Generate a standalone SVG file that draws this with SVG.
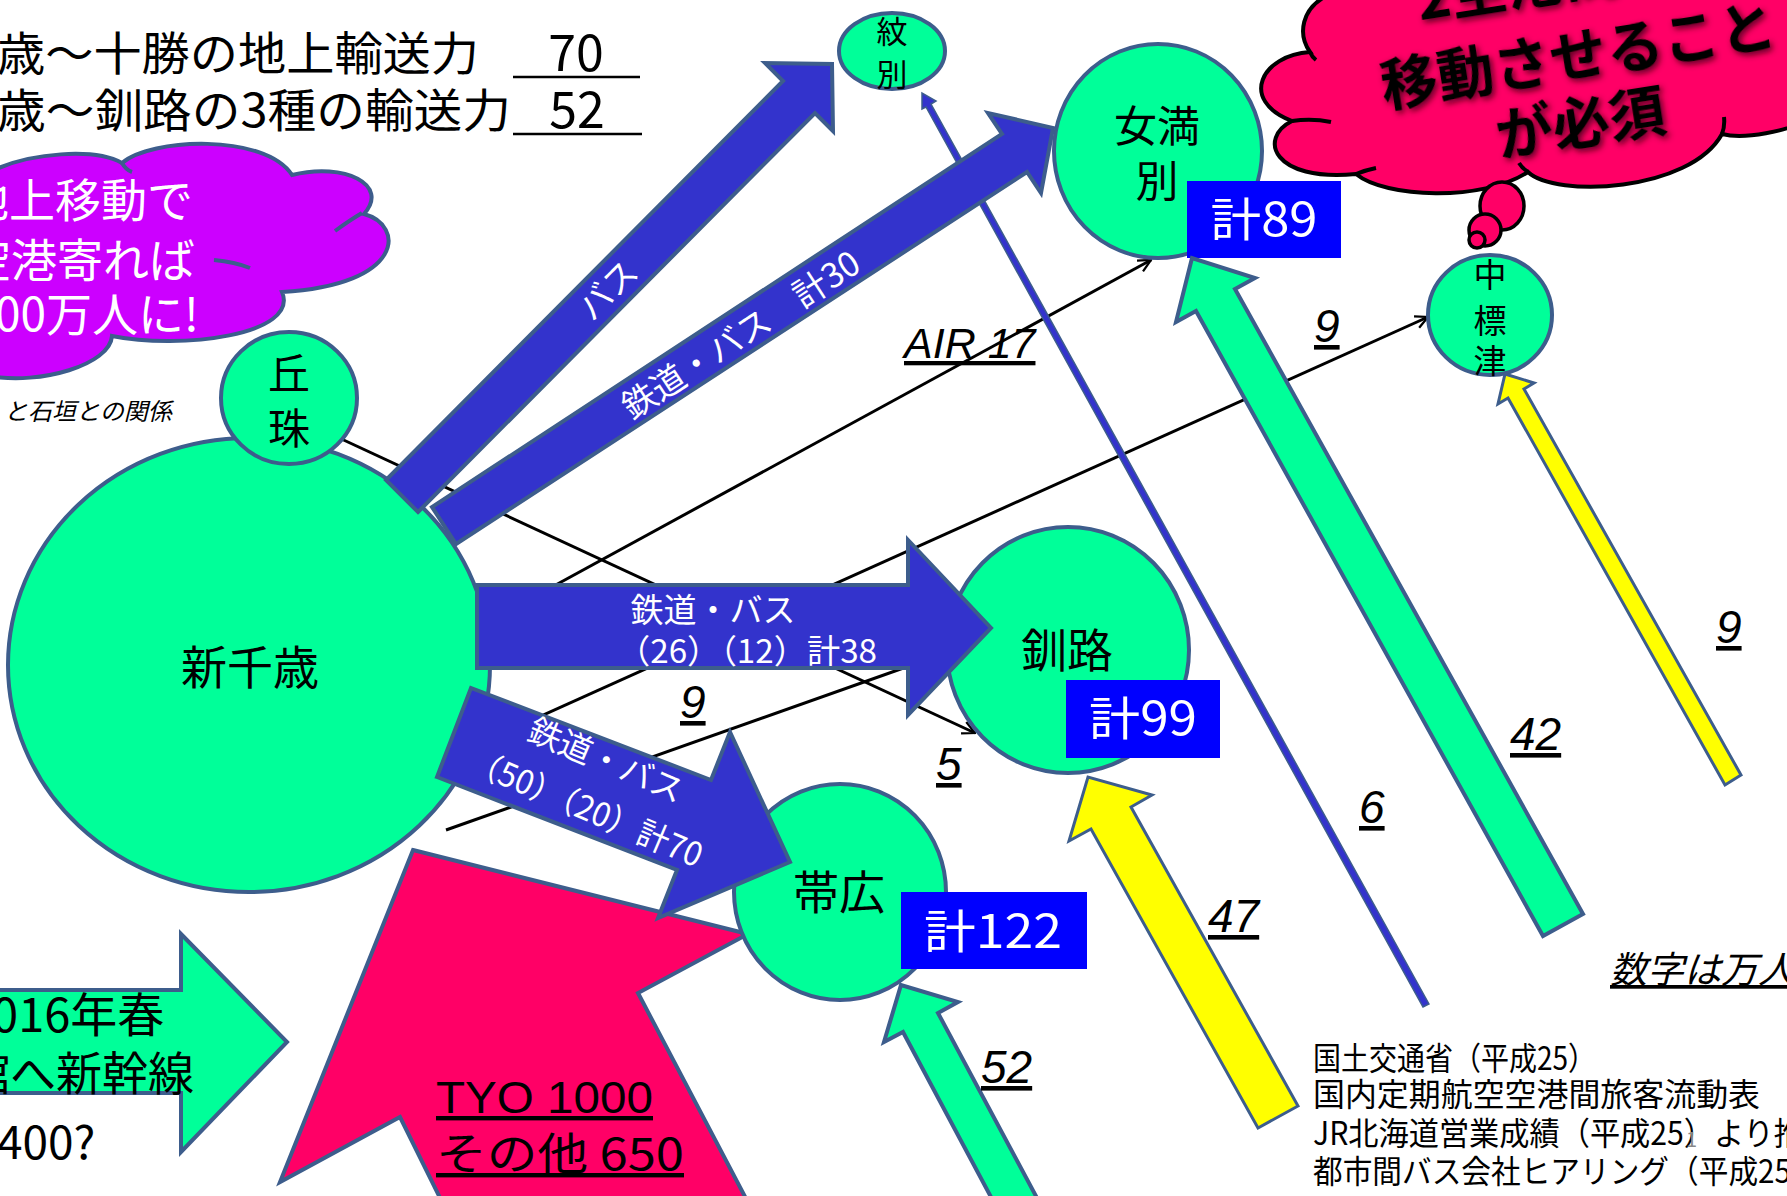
<svg xmlns="http://www.w3.org/2000/svg" width="1787" height="1196" viewBox="0 0 1787 1196">
<defs>
<style>
.jp{font-family:'Noto Sans CJK JP','Noto Sans CJK SC',sans-serif}
.lat{font-family:'Liberation Sans','Noto Sans CJK JP',sans-serif}
.node{fill:#00ff99;stroke:#3d5d8c;stroke-width:4}
.blk{fill:#3333cc;stroke:#3d5d8c;stroke-width:4;stroke-linejoin:miter}
.grn{fill:#00ff99;stroke:#3d5d8c;stroke-width:4;stroke-linejoin:miter}
.yel{fill:#ffff00;stroke:#3d5d8c;stroke-width:3;stroke-linejoin:miter}
.ln{fill:none;stroke:#000;stroke-width:3}
.box{fill:#0000ff}
.num{font-family:'Liberation Sans',sans-serif;font-style:italic;font-size:46px;text-decoration:underline;fill:#000}
.wt{fill:#fff}
.nt{fill:#000;text-anchor:middle}
</style>
<marker id="v" viewBox="0 0 12 12" refX="11" refY="6" markerWidth="15" markerHeight="15" markerUnits="userSpaceOnUse" orient="auto">
<path d="M1,1 L11,6 L1,11" fill="none" stroke="#000" stroke-width="1.8"/>
</marker>
<filter id="sh" x="-10%" y="-30%" width="120%" height="160%">
<feGaussianBlur in="SourceAlpha" stdDeviation="3"/>
<feOffset dx="2" dy="3" result="b"/>
<feFlood flood-color="#3a0010" flood-opacity="0.85"/>
<feComposite in2="b" operator="in"/>
<feMerge><feMergeNode/><feMergeNode in="SourceGraphic"/></feMerge>
</filter>
</defs>
<rect width="1787" height="1196" fill="#fff"/>

<g id="capacity-notes" class="jp" fill="#000">
<text x="-3" y="70" font-size="46" textLength="482" lengthAdjust="spacingAndGlyphs">歳～十勝の地上輸送力</text>
<text x="576" y="71" font-size="50" text-anchor="middle">70</text>
<line x1="513" y1="77" x2="640" y2="77" stroke="#000" stroke-width="2.5"/>
<text x="-3" y="127" font-size="46" textLength="514" lengthAdjust="spacingAndGlyphs">歳～釧路の3種の輸送力</text>
<text x="577" y="128" font-size="50" text-anchor="middle">52</text>
<line x1="513" y1="134" x2="642" y2="134" stroke="#000" stroke-width="2.5"/>
</g>

<g id="purple-cloud">
<path d="M -10,172 C 30,152 95,148 122,163 C 150,138 265,133 292,175 C 345,162 390,185 364,214 C 405,225 405,285 282,292 C 300,335 180,350 112,336 C 110,365 40,385 -10,376 Z" fill="#cc00ff" stroke="#3d5d8c" stroke-width="4"/>
<path d="M 335,231 Q 350,220 362,213 M 214,260 Q 235,262 250,268 M 122,163 Q 126,170 132,172" fill="none" stroke="#3d5d8c" stroke-width="4"/>
<g class="jp wt" font-size="46">
<text x="-37" y="217">地上移動で</text>
<text x="-35" y="277">空港寄れば</text>
<text x="-5" y="331">00万人に!</text>
</g>
<text class="jp" x="4" y="420" font-size="24" font-style="italic" fill="#000">と石垣との関係</text>
</g>

<g id="tokyo-arrow">
<polygon points="413,850 748,934 638,993 752,1210 446,1210 400,1117 280,1182" fill="#ff0066" stroke="#3d5d8c" stroke-width="4" stroke-linejoin="miter"/>
<text class="lat" x="436" y="1113" font-size="44" textLength="217" lengthAdjust="spacingAndGlyphs" text-decoration="underline" fill="#000">TYO 1000</text>
<text class="jp" x="436" y="1170" font-size="44" textLength="248" lengthAdjust="spacingAndGlyphs" text-decoration="underline" fill="#000">その他 650</text>
</g>

<g id="shinkansen-arrow">
<polygon class="grn" points="-10,990 181,990 181,934 287,1042 181,1152 181,1093 -10,1093"/>
<text class="jp" x="-34" y="1032" font-size="47" fill="#000">2016年春</text>
<text class="jp" x="-36" y="1090" font-size="46" fill="#000">館へ新幹線</text>
<text class="jp" x="-3" y="1159" font-size="46" fill="#000">400?</text>
</g>

<g id="connectors">
<line class="ln" x1="335" y1="436" x2="975" y2="733" marker-end="url(#v)"/>
<line class="ln" x1="530" y1="599" x2="1151" y2="260" marker-end="url(#v)"/>
<line class="ln" stroke-width="2.2" x1="490" y1="739" x2="1428" y2="317" marker-end="url(#v)"/>
<line class="ln" x1="446" y1="830" x2="960" y2="648"/>
<polygon points="1429,1004 931,104 936,101 922,93 922,109 926,107 1423,1007" fill="#3333cc" stroke="#3d5d8c" stroke-width="1.5"/>
</g>

<g id="node-shinchitose">
<ellipse class="node" cx="249" cy="665" rx="241" ry="227"/>
<text class="jp nt" x="250" y="684" font-size="46">新千歳</text>
</g>
<g id="node-okadama">
<ellipse class="node" cx="289" cy="398" rx="68" ry="66"/>
<text class="jp nt" x="289" y="389" font-size="42">丘</text>
<text class="jp nt" x="289" y="444" font-size="42">珠</text>
</g>
<g id="node-monbetsu">
<ellipse class="node" cx="892" cy="51" rx="53" ry="38"/>
<text class="jp nt" x="892" y="43" font-size="31">紋</text>
<text class="jp nt" x="892" y="86" font-size="31">別</text>
</g>
<g id="node-memanbetsu">
<ellipse class="node" cx="1158" cy="151" rx="104" ry="107"/>
<text class="jp nt" x="1157" y="142" font-size="43">女満</text>
<text class="jp nt" x="1157" y="197" font-size="43">別</text>
<rect class="box" x="1187" y="181" width="154" height="77"/>
<text class="jp wt" x="1264" y="236" font-size="46" text-anchor="middle" textLength="107" lengthAdjust="spacingAndGlyphs">計89</text>
</g>
<g id="node-nakashibetsu">
<ellipse class="node" cx="1490" cy="315" rx="62" ry="60"/>
<text class="jp nt" x="1490" y="287" font-size="33">中</text>
<text class="jp nt" x="1490" y="333" font-size="33">標</text>
<text class="jp nt" x="1490" y="373" font-size="33">津</text>
</g>
<g id="node-kushiro">
<ellipse class="node" cx="1068" cy="650" rx="121" ry="123"/>
<text class="jp nt" x="1067" y="667" font-size="46">釧路</text>
<rect class="box" x="1066" y="680" width="154" height="78"/>
<text class="jp wt" x="1143" y="735" font-size="46" text-anchor="middle" textLength="108" lengthAdjust="spacingAndGlyphs">計99</text>
</g>
<g id="node-obihiro">
<ellipse class="node" cx="840" cy="892" rx="106" ry="108"/>
<text class="jp nt" x="839" y="909" font-size="46">帯広</text>
<rect class="box" x="901" y="892" width="186" height="77"/>
<text class="jp wt" x="993" y="948" font-size="46" text-anchor="middle" textLength="138" lengthAdjust="spacingAndGlyphs">計122</text>
</g>

<g id="flow-arrows">
<polygon class="blk" points="418,512 815,113 833,131 832,64 765,63 783,81 386,480"/>
<text class="jp wt" transform="translate(608,290) rotate(-45)" y="12" font-size="34" text-anchor="middle">バス</text>
<polygon class="blk" points="456,544 1027,172 1041,193 1053,128 988,113 1002,134 432,507"/>
<text class="jp wt" transform="translate(741,335) rotate(-33.1)" y="12" font-size="34" text-anchor="middle">鉄道・バス　計30</text>
<polygon class="blk" points="477,585 908,585 908,540 991,628 908,715 908,668 477,668"/>
<text class="jp wt" x="713" y="622" font-size="33" text-anchor="middle">鉄道・バス</text>
<text class="jp wt" x="747" y="663" font-size="33" text-anchor="middle" textLength="260" lengthAdjust="spacingAndGlyphs">（26）（12）計38</text>
<polygon class="blk" points="437,777 677,870 658,918 790,862 730,732 711,780 471,688"/>
<g class="jp wt" transform="translate(596,784) rotate(23)" font-size="33" text-anchor="middle">
<text x="0" y="-14">鉄道・バス</text>
<text x="0" y="38" textLength="250" lengthAdjust="spacingAndGlyphs">（50）（20）計70</text>
</g>
<polygon class="grn" points="1583,914 1235,289 1255,278 1192,258 1176,322 1196,311 1543,936"/>
<polygon class="yel" stroke-width="4" points="1298,1106 1131,807 1152,795 1088,777 1069,841 1091,829 1258,1128"/>
<polygon class="grn" points="1060,1241 938,1013 958,1002 901,985 884,1042 903,1032 1024,1259"/>
<polygon class="yel" stroke-width="2" points="1741,775 1524,389 1534,383 1505,374 1498,404 1508,398 1725,785"/>
</g>

<g id="flow-labels">
<text class="num" x="904" y="358" style="font-size:43px">AIR 17</text>
<text class="num" x="1314" y="342">9</text>
<text class="num" x="680" y="718">9</text>
<text class="num" x="936" y="780">5</text>
<text class="num" x="1359" y="823">6</text>
<text class="num" x="1510" y="750">42</text>
<text class="num" x="1716" y="643">9</text>
<text class="num" x="1208" y="932">47</text>
<text class="num" x="981" y="1083">52</text>
<text class="jp" x="1610" y="983" font-size="37" font-style="italic" text-decoration="underline" fill="#000">数字は万人</text>
</g>

<g id="source-note" class="jp" font-size="32" fill="#000">
<text x="1313" y="1070" textLength="283" lengthAdjust="spacingAndGlyphs">国土交通省（平成25）</text>
<text x="1313" y="1106" textLength="447" lengthAdjust="spacingAndGlyphs">国内定期航空空港間旅客流動表</text>
<text x="1313" y="1145" textLength="491" lengthAdjust="spacingAndGlyphs">JR北海道営業成績（平成25）より推</text>
<text x="1313" y="1183" textLength="478" lengthAdjust="spacingAndGlyphs">都市間バス会社ヒアリング（平成25</text>
<text x="1686" y="1147" font-size="20" fill="#888">1</text>
</g>

<g id="note-cloud-pink">
<path d="M 1330,-6 C 1300,8 1298,35 1310,52 C 1262,55 1238,100 1292,121 C 1258,138 1272,182 1356,174 C 1385,198 1482,202 1528,172 C 1555,198 1690,192 1722,134 C 1745,140 1790,130 1800,122 L 1800,-6 Z" fill="#ff0066" stroke="#000" stroke-width="4"/>
<path d="M 1310,52 Q 1312,57 1316,60 M 1292,121 Q 1312,118 1331,122 M 1356,174 Q 1366,170 1376,168 M 1519,163 Q 1522,168 1528,172 M 1724,117 Q 1725,126 1722,134" fill="none" stroke="#000" stroke-width="4"/>
<ellipse cx="1502" cy="206" rx="22" ry="24" fill="#ff0066" stroke="#000" stroke-width="3.5"/>
<ellipse cx="1485" cy="230" rx="16" ry="16" fill="#ff0066" stroke="#000" stroke-width="3.5"/>
<ellipse cx="1477" cy="240" rx="8" ry="8" fill="#ff0066" stroke="#000" stroke-width="3.5"/>
<g transform="translate(1578,55) rotate(-9)" class="jp" font-size="57" font-weight="700" text-anchor="middle" fill="#000" filter="url(#sh)">
<text x="-20" y="-59">2空港間を</text>
<text x="0" y="21">移動させること</text>
<text x="-8" y="88">が必須</text>
</g>
</g>
</svg>
